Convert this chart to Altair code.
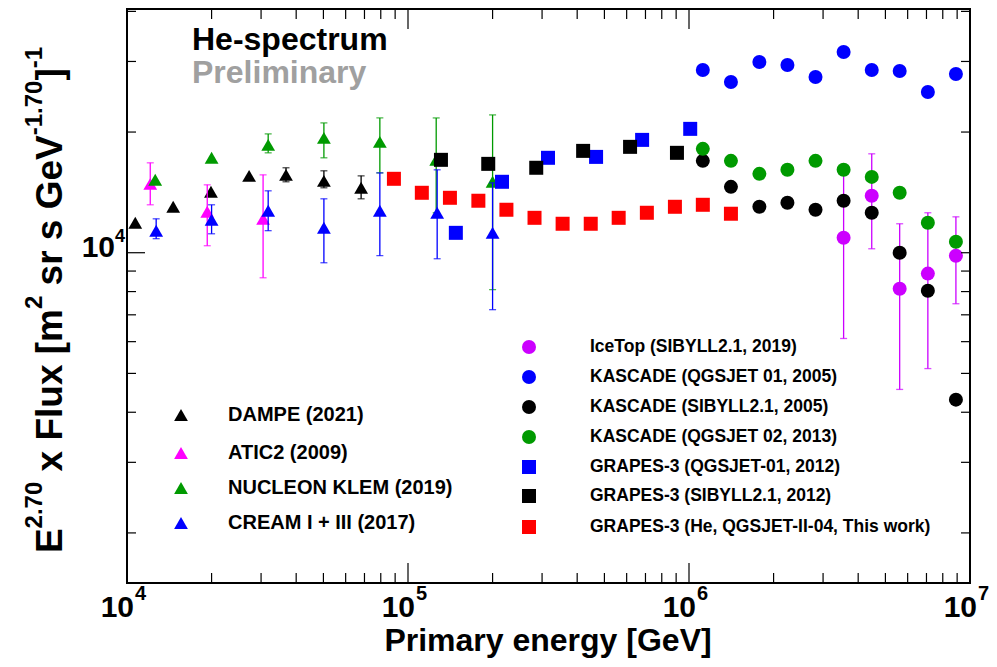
import altair as alt
import pandas as pd

# ---------------- data ----------------
dampe_E = [10.7e3, 14.6e3, 19.9e3, 27.2e3, 36.8e3, 50.2e3, 68.1e3]
dampe_F = [11880, 13020, 14190, 15550, 15640, 15110, 14520]
dampe_lo = [11880, 13020, 14190, 15550, 15030, 14520, 13630]
dampe_hi = [11880, 13020, 14190, 15550, 16290, 16010, 15550]

atic_E = [12.1e3, 19.3e3, 30.5e3]
atic_F = [14850, 12650, 12150]
atic_lo = [13170, 10410, 8660]
atic_hi = [16760, 14770, 15640]

nucleon_E = [12.6e3, 20.0e3, 31.8e3, 50.2e3, 79.4e3, 126e3, 200e3]
nucleon_F = [15200, 17250, 18580, 19340, 18900, 17050, 15030]
nucleon_lo = [15200, 17250, 17750, 17250, 15820, 12580, 8090]
nucleon_hi = [15200, 17250, 19790, 21080, 21690, 21690, 22070]

cream_E = [12.7e3, 20.0e3, 31.8e3, 50.2e3, 79.4e3, 127e3, 200e3]
cream_F = [11350, 12080, 12720, 11540, 12720, 12580, 11210]
cream_lo = [10840, 11150, 11350, 9440, 9830, 9660, 7210]
cream_hi = [12150, 13170, 14270, 13630, 15820, 16100, 14940]

icetop_E = [3.55e6, 4.47e6, 5.62e6, 7.08e6, 8.91e6]
icetop_F = [10900, 13870, 8130, 8870, 9830]
icetop_lo = [6110, 10230, 4560, 5140, 7460]
icetop_hi = [15600, 17650, 11810, 12580, 12290]

kascade_E = [1.12e6, 1.41e6, 1.78e6, 2.24e6, 2.82e6, 3.55e6, 4.47e6, 5.62e6, 7.08e6, 8.91e6]
kascade_q01_F = [28570, 26670, 29910, 29390, 27440, 31670, 28570, 28400, 25180, 27920]
kascade_sib_F = [16950, 14600, 13020, 13320, 12800, 13480, 12580, 10000, 8040, 4300]
kascade_q02_F = [18160, 16950, 15730, 16100, 16950, 16100, 15460, 14110, 11880, 10650]

grapes_q01_E = [148e3, 216e3, 315e3, 467e3, 681e3, 1.01e6]
grapes_q01_F = [11210, 15030, 17250, 17340, 19120, 20370]
grapes_sib_E = [131e3, 193e3, 286e3, 420e3, 617e3, 906e3]
grapes_sib_F = [17050, 16660, 16290, 17950, 18370, 17750]
grapes_he_E = [89.1e3, 112e3, 141e3, 178e3, 224e3, 282e3, 355e3, 447e3, 562e3,
               708e3, 891e3, 1.12e6, 1.41e6]
grapes_he_F = [15290, 14110, 13710, 13480, 12800, 12220, 11810, 11810, 12220,
               12580, 13020, 13170, 12510]

x_decades = [1e4, 1e5, 1e6, 1e7]
x_exponents = ["4", "5", "6", "7"]
x_minor = [k * 10 ** p for p in (4, 5, 6) for k in range(2, 10)]
y_major = [1e4]
y_minor = [2000, 3000, 4000, 5000, 6000, 7000, 8000, 9000, 20000, 30000, 40000]

legend_left_labels = ["DAMPE (2021)", "ATIC2 (2009)", "NUCLEON KLEM (2019)", "CREAM I + III (2017)"]
legend_right_labels = ["IceTop (SIBYLL2.1, 2019)", "KASCADE (QGSJET 01, 2005)",
                       "KASCADE (SIBYLL2.1, 2005)", "KASCADE (QGSJET 02, 2013)",
                       "GRAPES-3 (QGSJET-01, 2012)", "GRAPES-3 (SIBYLL2.1, 2012)",
                       "GRAPES-3 (He, QGSJET-II-04, This work)"]

# ---------------- styling ----------------
FONT = "Liberation Sans"
BLACK, MAGENTA, GREEN, BLUE, PURPLE, RED = "#000000", "#ff00ff", "#009a00", "#0000ff", "#cc00ff", "#ff0000"
W, H = 843, 574
xscale = alt.Scale(type="log", domain=[1e4, 1e7], nice=False)
yscale = alt.Scale(type="log", domain=[1500, 40550], nice=False)
X = lambda f="E": alt.X(f"{f}:Q", scale=xscale, axis=None)
Y = lambda f="F": alt.Y(f"{f}:Q", scale=yscale, axis=None)

layers = []


def errbars(E, lo, hi, color):
    df = pd.DataFrame({"E": E, "lo": lo, "hi": hi})
    df = df[df["lo"] != df["hi"]]
    rule = alt.Chart(df).mark_rule(color=color, strokeWidth=1.3).encode(x=X(), y=Y("lo"), y2="hi")
    cap_lo = alt.Chart(df).mark_tick(color=color, orient="horizontal", size=7, thickness=1.3).encode(x=X(), y=Y("lo"))
    cap_hi = alt.Chart(df).mark_tick(color=color, orient="horizontal", size=7, thickness=1.3).encode(x=X(), y=Y("hi"))
    return [rule, cap_lo, cap_hi]


def points(E, F, color, shape, size):
    df = pd.DataFrame({"E": E, "F": F})
    return alt.Chart(df).mark_point(shape=shape, filled=True, size=size, color=color,
                                    opacity=1, strokeWidth=0).encode(x=X(), y=Y())


TRI = 190
SYM = 196
for E, F, lo, hi, c in [(dampe_E, dampe_F, dampe_lo, dampe_hi, BLACK),
                        (atic_E, atic_F, atic_lo, atic_hi, MAGENTA),
                        (nucleon_E, nucleon_F, nucleon_lo, nucleon_hi, GREEN),
                        (cream_E, cream_F, cream_lo, cream_hi, BLUE)]:
    layers += errbars(E, lo, hi, c)
    layers.append(points(E, F, c, "triangle-up", TRI))

layers += errbars(icetop_E, icetop_lo, icetop_hi, PURPLE)
layers.append(points(icetop_E, icetop_F, PURPLE, "circle", SYM))
layers.append(points(kascade_E, kascade_q01_F, BLUE, "circle", SYM))
layers.append(points(kascade_E, kascade_sib_F, BLACK, "circle", SYM))
layers.append(points(kascade_E, kascade_q02_F, GREEN, "circle", SYM))
layers.append(points(grapes_q01_E, grapes_q01_F, BLUE, "square", SYM))
layers.append(points(grapes_sib_E, grapes_sib_F, BLACK, "square", SYM))
layers.append(points(grapes_he_E, grapes_he_F, RED, "square", SYM))

# ---------------- inward ticks on all four sides ----------------
xt = pd.DataFrame({"E": x_decades + x_minor, "len": [20] * len(x_decades) + [10] * len(x_minor)})
for L in (20, 10):
    d = xt[xt["len"] == L]
    layers.append(alt.Chart(d).mark_rule(color="black", strokeWidth=1.2).encode(
        x=X(), y=alt.value(H), y2=alt.value(H - L)))
    layers.append(alt.Chart(d).mark_rule(color="black", strokeWidth=1.2).encode(
        x=X(), y=alt.value(0), y2=alt.value(L)))
yt_maj = pd.DataFrame({"F": y_major})
yt_min = pd.DataFrame({"F": y_minor})
layers.append(alt.Chart(yt_maj).mark_rule(color="black", strokeWidth=1.2).encode(
    y=Y(), x=alt.value(0), x2=alt.value(18)))
layers.append(alt.Chart(yt_min).mark_rule(color="black", strokeWidth=1.2).encode(
    y=Y(), x=alt.value(0), x2=alt.value(9)))
layers.append(alt.Chart(pd.concat([yt_maj, yt_min])).mark_rule(color="black", strokeWidth=1.2).encode(
    y=Y(), x=alt.value(W), x2=alt.value(W - 9)))

# ---------------- tick labels ----------------
xl = pd.DataFrame({"E": x_decades, "base": ["10"] * 4, "exp": x_exponents})
layers.append(alt.Chart(xl).mark_text(font=FONT, fontWeight="bold", fontSize=30, align="right",
                                      baseline="alphabetic", dx=7).encode(
    x=X(), y=alt.value(608), text="base:N"))
layers.append(alt.Chart(xl).mark_text(font=FONT, fontWeight="bold", fontSize=20, align="left",
                                      baseline="alphabetic", dx=8).encode(
    x=X(), y=alt.value(591), text="exp:N"))
yl = pd.DataFrame({"F": y_major, "base": ["10"], "exp": ["4"]})
layers.append(alt.Chart(yl).mark_text(font=FONT, fontWeight="bold", fontSize=30, align="right",
                                      baseline="alphabetic", dy=4).encode(
    x=alt.value(-12), y=Y(), text="base:N"))
layers.append(alt.Chart(yl).mark_text(font=FONT, fontWeight="bold", fontSize=18, align="left",
                                      baseline="alphabetic", dy=-11).encode(
    x=alt.value(-12), y=Y(), text="exp:N"))

# ---------------- axis titles ----------------
layers.append(alt.Chart(pd.DataFrame({"t": ["Primary energy [GeV]"]})).mark_text(
    font=FONT, fontWeight="bold", fontSize=32, align="center", baseline="alphabetic").encode(
    x=alt.value(421), y=alt.value(642), text="t:N"))

# y title built from segments (normal + superscript), rotated
AW = {" ": 278, "x": 556, "F": 611, "l": 278, "u": 611, "[": 333, "m": 889, "s": 556, "r": 389,
      "G": 778, "e": 556, "V": 667, "]": 333, "E": 667, "2": 556, ".": 278, "7": 556, "0": 556,
      "-": 333, "1": 556}
segs = [("E", False), ("2.70", True), (" x Flux [m", False), ("2", True), (" sr s GeV", False),
        ("-1.70", True), ("]", False), ("-1", True)]
BIG, SUP = 37, 24
widths = [sum(AW[c] for c in t) / 1000 * (SUP if s else BIG) for t, s in segs]
pos = 291 + sum(widths) / 2
rows = []
for (t, s), w in zip(segs, widths):
    fs = SUP if s else BIG
    lead = (len(t) - len(t.lstrip(" "))) * AW[" "] / 1000 * fs
    rows.append({"t": t.strip(" "), "py": pos - lead, "px": -85 if s else -65, "fs": fs})
    pos -= w
ydf = pd.DataFrame(rows)
for fs in (BIG, SUP):
    layers.append(alt.Chart(ydf[ydf["fs"] == fs]).mark_text(
        font=FONT, fontWeight="bold", fontSize=fs, angle=270, align="left", baseline="alphabetic").encode(
        x=alt.X("px:Q", scale=None), y=alt.Y("py:Q", scale=None), text="t:N"))

# ---------------- header text ----------------
layers.append(alt.Chart(pd.DataFrame({"t": ["He-spectrum"]})).mark_text(
    font=FONT, fontWeight="bold", fontSize=32, align="left", baseline="alphabetic", color="black").encode(
    x=alt.value(65), y=alt.value(41), text="t:N"))
layers.append(alt.Chart(pd.DataFrame({"t": ["Preliminary"]})).mark_text(
    font=FONT, fontWeight="bold", fontSize=32, align="left", baseline="alphabetic", color="#a0a0a0").encode(
    x=alt.value(65), y=alt.value(74), text="t:N"))

# ---------------- legends ----------------
ll = pd.DataFrame({"label": legend_left_labels,
                   "color": [BLACK, MAGENTA, GREEN, BLUE],
                   "py": [406, 444, 479, 514]})
layers.append(alt.Chart(ll).mark_point(shape="triangle-up", filled=True, size=TRI, opacity=1, strokeWidth=0).encode(
    x=alt.value(54), y=alt.Y("py:Q", scale=None), color=alt.Color("color:N", scale=None)))
layers.append(alt.Chart(ll).mark_text(font=FONT, fontWeight="bold", fontSize=20, align="left",
                                      baseline="middle").encode(
    x=alt.value(101), y=alt.Y("py:Q", scale=None), text="label:N"))

lr = pd.DataFrame({"label": legend_right_labels,
                   "color": [PURPLE, BLUE, BLACK, GREEN, BLUE, BLACK, RED],
                   "shape": ["circle"] * 4 + ["square"] * 3,
                   "py": [338, 368, 398, 428, 458, 487, 518]})
layers.append(alt.Chart(lr).mark_point(filled=True, size=SYM, opacity=1, strokeWidth=0).encode(
    x=alt.value(402), y=alt.Y("py:Q", scale=None), color=alt.Color("color:N", scale=None),
    shape=alt.Shape("shape:N", scale=None)))
layers.append(alt.Chart(lr).mark_text(font=FONT, fontWeight="bold", fontSize=17.5, align="left",
                                      baseline="middle").encode(
    x=alt.value(463), y=alt.Y("py:Q", scale=None), text="label:N"))

chart = alt.layer(*layers).properties(
    width=W, height=H,
    autosize=alt.AutoSizeParams(type="none"),
    padding={"left": 119, "top": 1, "right": 19, "bottom": 76},
).configure_view(stroke="black", strokeWidth=2)

chart.save("out.html", embed_options={"renderer": "svg", "actions": False})
